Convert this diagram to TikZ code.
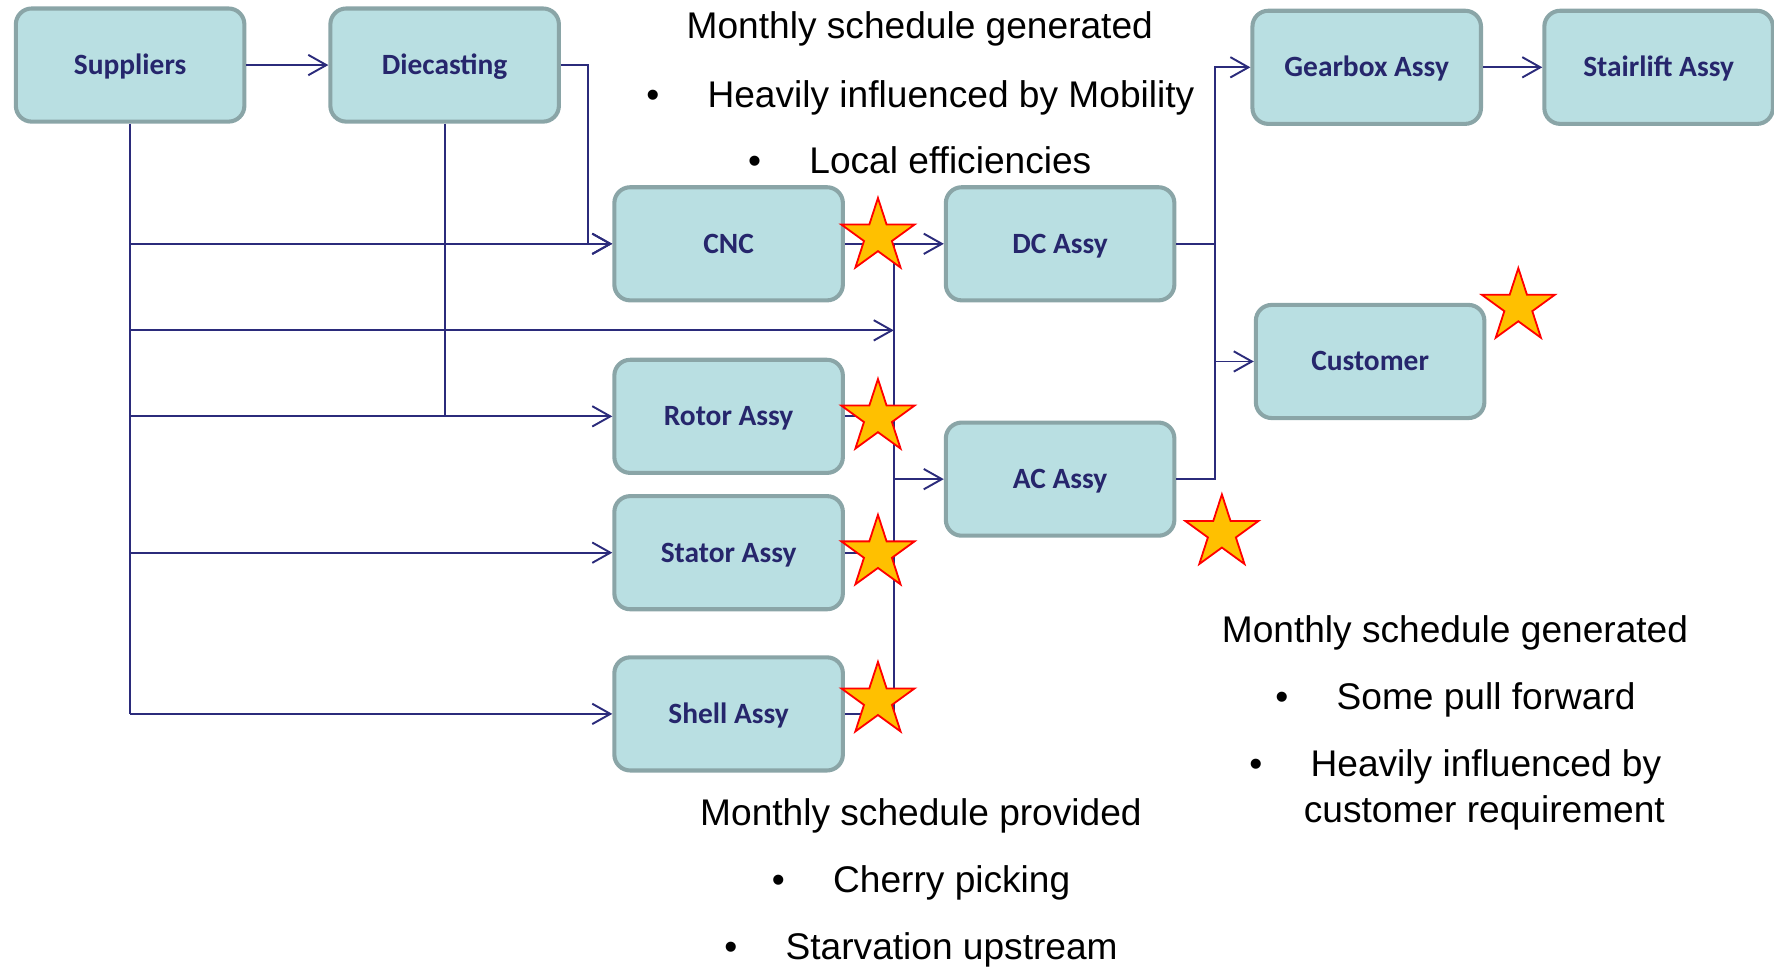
\documentclass[tikz,border=0pt]{standalone}
\usepackage{fontspec}
\setmainfont{Liberation Sans}
\newfontfamily\boxfont{Carlito}
\usetikzlibrary{arrows.meta,shapes.geometric}

\definecolor{boxfill}{HTML}{B9DFE2}
\definecolor{boxedge}{HTML}{8AA5A7}
\definecolor{boxtext}{HTML}{26266C}
\definecolor{wire}{HTML}{2B2B7B}
\definecolor{starfill}{HTML}{FFC000}

\tikzset{
  box/.style={draw=boxedge, fill=boxfill, line width=1.8pt, rounded corners=7pt,
    minimum width=101pt, minimum height=50pt, inner sep=0pt,
    text height=8.4pt, text depth=0pt,
    font=\boxfont\bfseries\fontsize{13}{15}\selectfont, text=boxtext},
  wireline/.style={draw=wire, line width=0.85pt},
  flow/.style={wireline, -{Straight Barb[length=8pt,width=9pt]}},
  alert/.style={star, star points=5, star point ratio=2.618, minimum size=34pt,
    inner sep=0pt, fill=starfill, draw=red, line width=0.8pt},
  note/.style={font=\fontsize{16.4}{20}\selectfont, inner sep=0pt, text height=11.7pt, text depth=0pt},
}

\begin{document}
\begin{tikzpicture}[x=0.5pt, y=-0.5pt]
\useasboundingbox (0,0) rectangle (1568,856);

% process boxes
\foreach \name/\label/\x/\y in {sup/Suppliers/115/57.5, die/Diecasting/393/57.5,
  cnc/CNC/644/215.5, dc/DC Assy/937/215.5, gear/Gearbox Assy/1208/59.5,
  stair/Stairlift Assy/1466/59.5, cust/Customer/1211/319.5, rotor/Rotor Assy/644/368,
  ac/AC Assy/937/423.5, stator/Stator Assy/644/488.5, shell/Shell Assy/644/631}{
\node[box] (\name) at (\x,\y) {\label};}

\coordinate (tap) at (790,292);
\coordinate (split) at (1074,320);

% supplier feeds
\draw[wireline] (sup.south) -- (sup.south |- shell.west);
\foreach \t in {cnc,rotor,stator,shell}{\draw[flow] (sup.south |- \t.west) -- (\t.west);}
\draw[flow] (sup.south |- tap) -- (tap);
\draw[flow] (sup) -- (die);

% diecasting feeds
\draw[wireline] (die.south) -- (die.south |- rotor.west);
\draw[flow] (die.east) -- ++(24,0) |- (cnc.west);

% collector bus
\draw[wireline] (cnc.east -| tap) -- (shell.east -| tap);
\foreach \t in {rotor,stator,shell}{\draw[wireline] (\t.east) -- (\t.east -| tap);}
\draw[flow] (cnc) -- (dc);
\draw[flow] (ac.west -| tap) -- (ac.west);

% assembly outputs
\draw[flow] (dc.east) -- (dc.east -| split) |- (gear.west);
\draw[wireline] (dc.east -| split) -- (ac.east -| split) -- (ac.east);
\draw[flow] (split |- cust.west) -- (cust.west);
\draw[flow] (gear) -- (stair);

% stars
\foreach \name/\x/\y in {scnc/776/209, srotor/776/369, sstator/776/489, sshell/776/619,
  scust/1342/271, sac/1080/471}{
\node[alert] (\name) at (\x,\y) {};}

% notes
\node[note] (tophead) at (813,22) {Monthly schedule generated};
\node[note] (bothead) at (814,718) {Monthly schedule provided};
\node[note] (rhead) at (1286,556) {Monthly schedule generated};
\foreach \name/\bx/\tx/\y/\txt in {top1/577/625/83/Heavily influenced by Mobility,
  top2/667/715/142/Local efficiencies, bot1/688/736/777/Cherry picking,
  bot2/646/694/836/Starvation upstream, r1/1133/1181/615/Some pull forward,
  r2/1110/1158/675/Heavily influenced by}{
\node[note] (b\name) at (\bx,\y) {\textbullet};
\node[note, anchor=west] (\name) at (\tx,\y) {\txt};}
\node[note] (r3) at (1312,715) {customer requirement};
\end{tikzpicture}
\end{document}
